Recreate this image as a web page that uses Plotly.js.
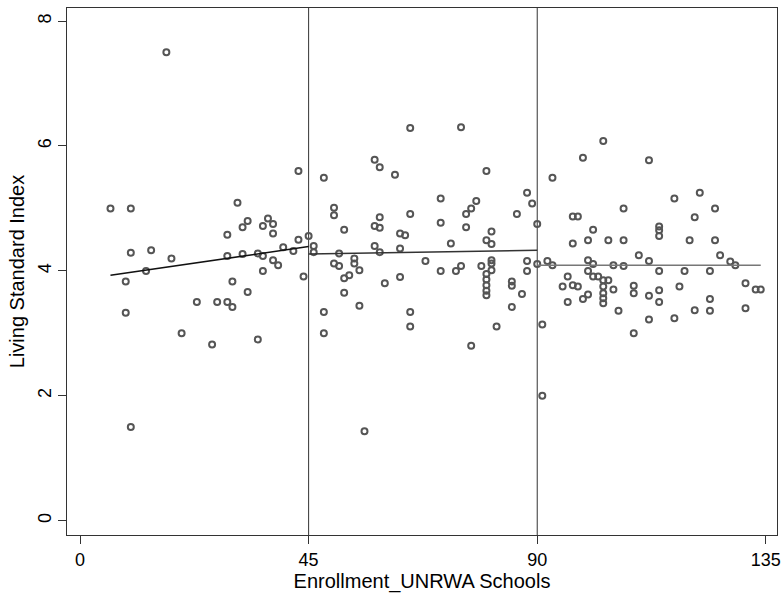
<!DOCTYPE html>
<html>
<head>
<meta charset="utf-8">
<script src="https://cdn.plot.ly/plotly-3.0.1.min.js"></script>
<style>html,body{margin:0;padding:0;background:#fff;}#chart{width:784px;height:594px;}</style>
</head>
<body>
<div id="chart"></div>
<script>
// Enrollment (x) and Living Standard Index (y) for each observation
const enrollment = [
  17, 6, 10, 31, 33, 32, 37, 38, 36, 38, 29, 43, 43, 40, 42, 10, 14, 18, 29, 32,
  35, 36, 38, 39, 36, 13, 44, 9, 30, 33, 23, 27, 29, 30, 9, 20, 26, 35, 10,
  45, 46, 46,
  48, 50, 50, 52, 51, 50, 51, 54, 54, 55, 53, 52, 52, 55, 48, 48, 56, 58, 59, 62,
  65, 75, 59, 58, 59, 58, 59, 63, 64, 63, 65, 60, 63, 65, 65, 68, 71, 71, 71, 73,
  74, 75, 76, 76, 77, 78, 77, 80, 80, 81, 81, 79, 81, 81, 81, 80, 80, 80, 80, 80,
  82, 86, 88, 89, 90, 88, 88, 85, 85, 85, 87, 90,
  91, 91, 92, 93, 93, 99, 103, 112, 97, 98, 101, 97, 100, 104, 107, 107, 100, 101,
  105, 107, 96, 100, 101, 102, 95, 97, 98, 96, 99, 100, 103, 104, 103, 103, 103, 103,
  105, 106, 109, 109, 109, 110, 112, 112, 112, 114, 114, 114, 114, 114, 114, 117, 117,
  118, 119, 120, 121, 121, 122, 124, 124, 124, 125, 125, 126, 128, 129, 131, 131, 133, 134
];
const livingIndex = [
  7.50, 5.00, 5.00, 5.09, 4.80, 4.70, 4.84, 4.75, 4.72, 4.60, 4.58, 5.60, 4.50, 4.38, 4.32, 4.29, 4.33, 4.20, 4.24, 4.27,
  4.28, 4.24, 4.17, 4.09, 4.00, 4.00, 3.91, 3.83, 3.83, 3.66, 3.50, 3.50, 3.50, 3.42, 3.33, 3.00, 2.82, 2.90, 1.50,
  4.56, 4.40, 4.30,
  5.49, 5.01, 4.89, 4.66, 4.28, 4.12, 4.08, 4.20, 4.12, 4.01, 3.93, 3.88, 3.65, 3.44, 3.34, 3.00, 1.43, 5.78, 5.66, 5.54,
  6.29, 6.30, 4.86, 4.72, 4.69, 4.40, 4.30, 4.60, 4.57, 4.36, 4.91, 3.80, 3.90, 3.34, 3.11, 4.16, 5.16, 4.77, 4.00, 4.44,
  4.00, 4.08, 4.91, 4.70, 5.00, 5.12, 2.80, 5.60, 4.49, 4.63, 4.43, 4.08, 4.17, 4.12, 4.01, 3.95, 3.86, 3.77, 3.68, 3.61,
  3.11, 4.91, 5.25, 5.08, 4.75, 4.16, 4.00, 3.83, 3.76, 3.42, 3.63, 4.11,
  3.14, 2.00, 4.16, 4.09, 5.49, 5.81, 6.08, 5.77, 4.87, 4.87, 4.66, 4.44, 4.49, 4.49, 5.00, 4.49, 4.17, 4.11,
  4.09, 4.08, 3.91, 4.00, 3.91, 3.91, 3.75, 3.77, 3.75, 3.50, 3.55, 3.62, 3.85, 3.85, 3.75, 3.64, 3.56, 3.48,
  3.70, 3.36, 3.00, 3.76, 3.64, 4.25, 4.16, 3.60, 3.22, 4.71, 4.65, 4.56, 4.00, 3.69, 3.50, 5.16, 3.24,
  3.75, 4.00, 4.49, 4.86, 3.37, 5.25, 4.00, 3.55, 3.36, 5.00, 4.49, 4.25, 4.15, 4.09, 3.80, 3.40, 3.70, 3.70
];
// Fitted lines on each side of the cutoffs
const fitLeftX = [6, 45],   fitLeftY = [3.93, 4.39];
const fitMidX = [45, 90],   fitMidY = [4.27, 4.33];
const fitRightX = [90, 134], fitRightY = [4.09, 4.09];
// Cutoff reference lines
const cutoffs = [45, 90];
const xTicks = [0, 45, 90, 135];
const yTicks = [0, 2, 4, 6, 8];

const FONT = 'Liberation Sans, Arial, sans-serif';

const traces = [
  {x: enrollment, y: livingIndex, type: 'scatter', mode: 'markers',
   marker: {symbol: 'circle-open', size: 6, color: '#555', line: {width: 2, color: '#555'}},
   hoverinfo: 'x+y'},
  {x: fitLeftX, y: fitLeftY, type: 'scatter', mode: 'lines', line: {color: '#111', width: 1.5}},
  {x: fitMidX, y: fitMidY, type: 'scatter', mode: 'lines', line: {color: '#333', width: 1.5}},
  {x: fitRightX, y: fitRightY, type: 'scatter', mode: 'lines', line: {color: '#777', width: 1.5}}
];

const shapes = cutoffs.map(c => ({
  type: 'line', xref: 'x', yref: 'paper', x0: c, x1: c, y0: 0, y1: 1,
  line: {color: '#333', width: 1}, layer: 'below'
}));

const layout = {
  width: 784, height: 594,
  margin: {l: 67, r: 7, t: 8, b: 59},
  paper_bgcolor: '#fff', plot_bgcolor: '#fff',
  showlegend: false,
  font: {family: FONT, color: '#000', size: 18},
  shapes: shapes,
  xaxis: {
    range: [-2.56, 137.2], tickmode: 'array', tickvals: xTicks, ticktext: xTicks.map(String),
    ticks: 'outside', ticklen: 8, tickwidth: 1, tickcolor: '#333',
    showgrid: false, zeroline: false, showline: true, mirror: true,
    linecolor: '#333', linewidth: 1.3,
    tickfont: {family: FONT, size: 18, color: '#000'},
    title: {text: 'Enrollment_UNRWA Schools', font: {family: FONT, size: 20, color: '#000'}, standoff: 4}
  },
  yaxis: {
    range: [-0.23, 8.21], tickmode: 'array', tickvals: yTicks, ticktext: yTicks.map(String),
    ticks: 'outside', ticklen: 8, tickwidth: 1, tickcolor: '#333', tickangle: -90,
    showgrid: false, zeroline: false, showline: true, mirror: true,
    linecolor: '#333', linewidth: 1.3,
    tickfont: {family: FONT, size: 18, color: '#000'},
    title: {text: 'Living Standard Index', font: {family: FONT, size: 20, color: '#000'}, standoff: 4}
  }
};

Plotly.newPlot('chart', traces, layout, {displayModeBar: false, staticPlot: true});
</script>
</body>
</html>
